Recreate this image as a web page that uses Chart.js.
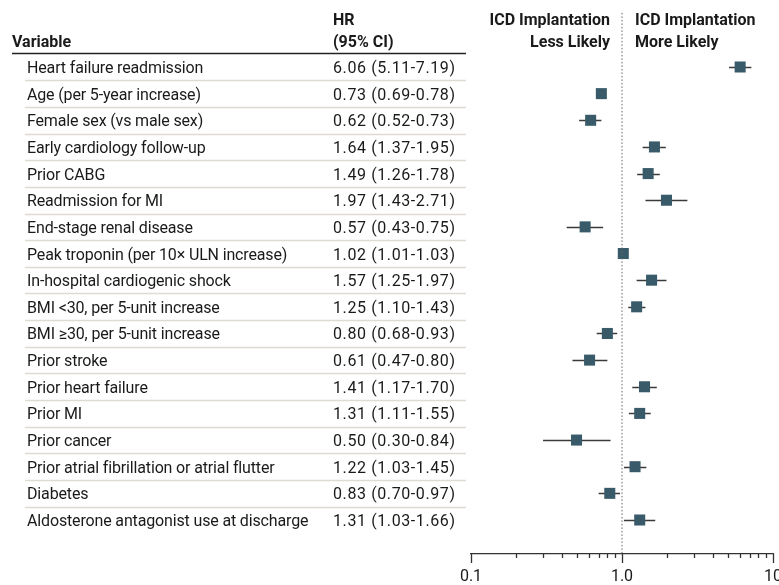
<!DOCTYPE html>
<html>
<head>
<meta charset="utf-8">
<script src="https://cdn.jsdelivr.net/npm/chart.js@4"></script>
<style>
  html, body { margin: 0; padding: 0; background: #fff; }
  #wrap { width: 779px; height: 585px; }
</style>
</head>
<body>
<div id="wrap"><canvas id="forest" width="779" height="585"></canvas></div>
<script>
// Forest plot: HR with 95% CI for ICD implantation
const variables = [
    'Heart failure readmission',
    'Age (per 5-year increase)',
    'Female sex (vs male sex)',
    'Early cardiology follow-up',
    'Prior CABG',
    'Readmission for MI',
    'End-stage renal disease',
    'Peak troponin (per 10\u00d7 ULN increase)',
    'In-hospital cardiogenic shock',
    'BMI <30, per 5-unit increase',
    'BMI \u226530, per 5-unit increase',
    'Prior stroke',
    'Prior heart failure',
    'Prior MI',
    'Prior cancer',
    'Prior atrial fibrillation or atrial flutter',
    'Diabetes',
    'Aldosterone antagonist use at discharge'
];
const hr     = [6.06, 0.73, 0.62, 1.64, 1.49, 1.97, 0.57, 1.02, 1.57, 1.25, 0.80, 0.61, 1.41, 1.31, 0.50, 1.22, 0.83, 1.31];
const ciLow  = [5.11, 0.69, 0.52, 1.37, 1.26, 1.43, 0.43, 1.01, 1.25, 1.10, 0.68, 0.47, 1.17, 1.11, 0.30, 1.03, 0.70, 1.03];
const ciHigh = [7.19, 0.78, 0.73, 1.95, 1.78, 2.71, 0.75, 1.03, 1.97, 1.43, 0.93, 0.80, 1.70, 1.55, 0.84, 1.45, 0.97, 1.66];
const xTicks = [0.1, 0.2, 0.3, 0.4, 0.5, 0.6, 0.7, 0.8, 0.9, 1, 2, 3, 4, 5, 6, 7, 8, 9, 10];
const xTickLabels = { 0.1: '0.1', 1: '1.0', 10: '10' };

const FONT = '"Roboto", sans-serif';
const boxColor = '#385a69';

function fmt(v) { return v.toFixed(2); }

const tablePlugin = {
    id: 'table',
    beforeDatasetsDraw(chart) {
        const ctx = chart.ctx;
        const x = chart.scales.x, y = chart.scales.y;
        ctx.save();
        // CI whiskers
        ctx.strokeStyle = '#3a3a3a';
        ctx.lineWidth = 1.5;
        hr.forEach((v, i) => {
            const py = Math.round(y.getPixelForValue(i)) + 0.5;
            ctx.beginPath();
            ctx.moveTo(x.getPixelForValue(ciLow[i]), py);
            ctx.lineTo(x.getPixelForValue(ciHigh[i]), py);
            ctx.stroke();
        });
        ctx.restore();
    },
    afterDraw(chart) {
        const ctx = chart.ctx;
        const x = chart.scales.x, y = chart.scales.y;
        ctx.save();
        // header
        ctx.fillStyle = '#1a1a1a';
        ctx.font = 'bold 16px ' + FONT;
        ctx.textBaseline = 'middle';
        ctx.textAlign = 'left';
        ctx.fillText('Variable', 12, 43);
        ctx.fillText('HR', 333, 21);
        ctx.fillText('(95% CI)', 333, 43);
        const x1 = x.getPixelForValue(1);
        ctx.textAlign = 'right';
        ctx.fillText('ICD Implantation', x1 - 12, 21);
        ctx.fillText('Less Likely', x1 - 12, 43);
        ctx.textAlign = 'left';
        ctx.fillText('ICD Implantation', x1 + 13, 21);
        ctx.fillText('More Likely', x1 + 13, 43);

        ctx.strokeStyle = '#222';
        ctx.lineWidth = 1.5;
        ctx.beginPath();
        ctx.moveTo(12, 53.5);
        ctx.lineTo(466, 53.5);
        ctx.stroke();

        // rows
        ctx.font = '16px ' + FONT;
        ctx.strokeStyle = '#dedbd3';
        ctx.lineWidth = 1.5;
        variables.forEach((name, i) => {
            const py = y.getPixelForValue(i);
            ctx.letterSpacing = '-0.15px';
            ctx.fillText(name, 27, py + 2);
            ctx.letterSpacing = '0.6px';
            ctx.fillText(fmt(hr[i]) + ' (' + fmt(ciLow[i]) + '-' + fmt(ciHigh[i]) + ')', 333, py + 2);
            if (i < variables.length - 1) {
                const sy = Math.round((py + y.getPixelForValue(i + 1)) / 2) + 0.5;
                ctx.beginPath();
                ctx.moveTo(25, sy);
                ctx.lineTo(466, sy);
                ctx.stroke();
            }
        });
        ctx.letterSpacing = '0px';

        // x axis: tick marks hanging below the axis line, and labels
        const base = chart.chartArea.bottom;
        ctx.strokeStyle = '#333';
        ctx.lineWidth = 1.3;
        xTicks.forEach(t => {
            const px = Math.round(x.getPixelForValue(t)) + 0.5;
            const len = xTickLabels[t] ? 9 : 4;
            ctx.beginPath();
            ctx.moveTo(px, base);
            ctx.lineTo(px, base + len);
            ctx.stroke();
        });
        ctx.textAlign = 'center';
        ctx.font = '16px ' + FONT;
        Object.keys(xTickLabels).forEach(k => {
            ctx.fillText(xTickLabels[k], x.getPixelForValue(Number(k)), base + 23);
        });
        ctx.restore();
    }
};

new Chart(document.getElementById('forest'), {
    type: 'scatter',
    data: {
        datasets: [
            {
                type: 'line',
                data: [{ x: 1, y: -2.03 }, { x: 1, y: 18.276 }],
                borderColor: '#666',
                borderWidth: 1,
                borderDash: [1.5, 2],
                pointRadius: 0
            },
            {
                data: hr.map((v, i) => ({ x: v, y: i })),
                pointStyle: 'rect',
                pointRadius: 7.8,
                backgroundColor: boxColor,
                borderWidth: 0
            }
        ]
    },
    plugins: [tablePlugin],
    options: {
        responsive: false,
        animation: false,
        layout: { autoPadding: false, padding: { left: 471, right: 6, top: 0, bottom: 31 } },
        plugins: { legend: { display: false }, tooltip: { enabled: false } },
        scales: {
            x: {
                type: 'logarithmic',
                min: 0.1,
                max: 10,
                afterBuildTicks: (scale) => { scale.ticks = xTicks.map(v => ({ value: v })); },
                grid: { display: false, drawTicks: false },
                border: { display: true, color: '#333', width: 1.3 },
                ticks: { display: false }
            },
            y: {
                type: 'linear',
                display: false,
                reverse: true,
                min: -2.514,
                max: 18.276
            }
        }
    }
});
</script>
</body>
</html>
